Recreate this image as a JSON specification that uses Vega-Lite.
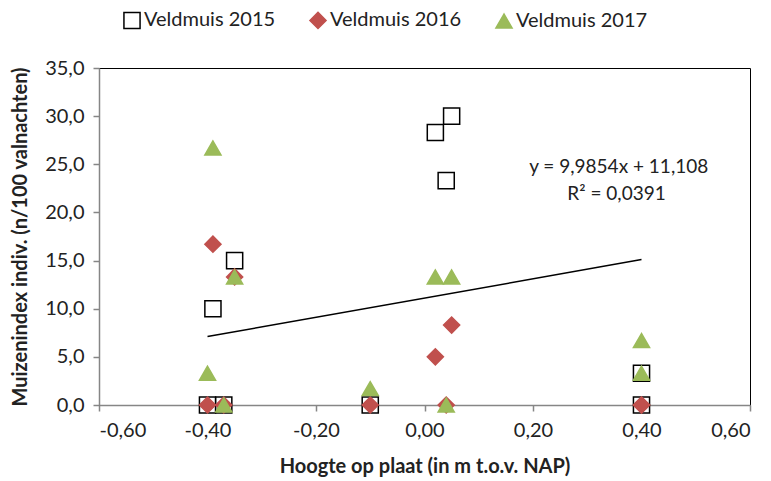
{
  "$schema": "https://vega.github.io/schema/vega-lite/v6.json",
  "width": 651,
  "height": 337,
  "autosize": "none",
  "padding": {"left": 99, "top": 68, "right": 21, "bottom": 76},
  "background": "white",
  "config": {
    "font": "Lato",
    "view": {"stroke": "#000000", "strokeWidth": 1},
    "axis": {"grid": false, "labelFont": "Lato", "titleFont": "Lato", "labelColor": "#222222", "titleColor": "#222222", "labelFontSize": 20, "titleFontSize": 20, "titleFontWeight": "bold", "domainColor": "#868686", "tickColor": "#868686", "tickSize": 6, "domainWidth": 1.5, "tickWidth": 1.5}
  },
  "datasets": {
    "pts": [
      {"x": -0.40, "y": 0, "serie": "Veldmuis 2015"},
      {"x": -0.39, "y": 10.0, "serie": "Veldmuis 2015"},
      {"x": -0.37, "y": 0, "serie": "Veldmuis 2015"},
      {"x": -0.35, "y": 15.0, "serie": "Veldmuis 2015"},
      {"x": -0.10, "y": 0, "serie": "Veldmuis 2015"},
      {"x": 0.02, "y": 28.3, "serie": "Veldmuis 2015"},
      {"x": 0.04, "y": 23.3, "serie": "Veldmuis 2015"},
      {"x": 0.05, "y": 30.0, "serie": "Veldmuis 2015"},
      {"x": 0.40, "y": 3.3, "serie": "Veldmuis 2015"},
      {"x": 0.40, "y": 0, "serie": "Veldmuis 2015"},
      {"x": -0.40, "y": 0, "serie": "Veldmuis 2016"},
      {"x": -0.39, "y": 16.7, "serie": "Veldmuis 2016"},
      {"x": -0.37, "y": 0, "serie": "Veldmuis 2016"},
      {"x": -0.35, "y": 13.3, "serie": "Veldmuis 2016"},
      {"x": -0.10, "y": 0, "serie": "Veldmuis 2016"},
      {"x": 0.02, "y": 5.0, "serie": "Veldmuis 2016"},
      {"x": 0.04, "y": 0, "serie": "Veldmuis 2016"},
      {"x": 0.05, "y": 8.3, "serie": "Veldmuis 2016"},
      {"x": 0.40, "y": 0, "serie": "Veldmuis 2016"},
      {"x": 0.40, "y": 0, "serie": "Veldmuis 2016"},
      {"x": -0.40, "y": 3.3, "serie": "Veldmuis 2017"},
      {"x": -0.39, "y": 26.7, "serie": "Veldmuis 2017"},
      {"x": -0.37, "y": 0, "serie": "Veldmuis 2017"},
      {"x": -0.35, "y": 13.3, "serie": "Veldmuis 2017"},
      {"x": -0.10, "y": 1.7, "serie": "Veldmuis 2017"},
      {"x": 0.02, "y": 13.3, "serie": "Veldmuis 2017"},
      {"x": 0.04, "y": 0, "serie": "Veldmuis 2017"},
      {"x": 0.05, "y": 13.3, "serie": "Veldmuis 2017"},
      {"x": 0.40, "y": 6.7, "serie": "Veldmuis 2017"},
      {"x": 0.40, "y": 3.3, "serie": "Veldmuis 2017"}
    ],
    "trend": [
      {"x": -0.40, "y": 7.114},
      {"x": 0.40, "y": 15.102}
    ],
    "notes": [
      {"x": 0.358, "y": 24.7, "label": "y = 9,9854x + 11,108"},
      {"x": 0.354, "y": 21.9, "label": "R² = 0,0391"}
    ]
  },
  "layer": [
    {
      "data": {"name": "trend"},
      "mark": {"type": "line", "color": "#000000", "strokeWidth": 1.5},
      "encoding": {
        "x": {"field": "x", "type": "quantitative", "scale": {"domain": [-0.6, 0.6], "nice": false, "zero": false},
          "axis": {"values": [-0.6, -0.4, -0.2, 0, 0.2, 0.4, 0.6], "labelExpr": "replace(replace(format(datum.value, '.2f'), '.', ','), '\u2212', '-')", "title": "Hoogte op plaat (in m t.o.v. NAP)", "titlePadding": 16, "labelPadding": 9}},
        "y": {"field": "y", "type": "quantitative", "scale": {"domain": [0, 35], "nice": false},
          "axis": {"values": [0, 5, 10, 15, 20, 25, 30, 35], "labelExpr": "replace(format(datum.value, '.1f'), '.', ',')", "title": "Muizenindex indiv. (n/100 valnachten)", "titlePadding": 14, "labelPadding": 9}}
      }
    },
    {
      "data": {"name": "pts"},
      "mark": {"type": "point", "filled": false, "strokeWidth": 1.5, "opacity": 1, "size": 260},
      "encoding": {
        "x": {"field": "x", "type": "quantitative"},
        "y": {"field": "y", "type": "quantitative"},
        "shape": {"field": "serie", "type": "nominal", "scale": {"domain": ["Veldmuis 2015", "Veldmuis 2016", "Veldmuis 2017"], "range": ["square", "diamond", "triangle-up"]},
          "legend": {"title": null, "orient": "none", "direction": "horizontal", "legendX": 23, "legendY": -58, "labelFontSize": 20, "labelFont": "Lato", "labelColor": "#222222", "symbolSize": 260, "symbolStrokeWidth": 1.5, "labelOffset": 2, "columnPadding": 30}},
        "fill": {"field": "serie", "type": "nominal", "scale": {"domain": ["Veldmuis 2015", "Veldmuis 2016", "Veldmuis 2017"], "range": ["#ffffff", "#C0504D", "#9BBB59"]}},
        "stroke": {"field": "serie", "type": "nominal", "scale": {"domain": ["Veldmuis 2015", "Veldmuis 2016", "Veldmuis 2017"], "range": ["#000000", "#C0504D", "#9BBB59"]}}
      }
    },
    {
      "data": {"name": "notes"},
      "mark": {"type": "text", "fontSize": 19, "font": "Lato", "color": "#222222", "align": "center", "baseline": "middle"},
      "encoding": {
        "x": {"field": "x", "type": "quantitative"},
        "y": {"field": "y", "type": "quantitative"},
        "text": {"field": "label"}
      }
    }
  ]
}
